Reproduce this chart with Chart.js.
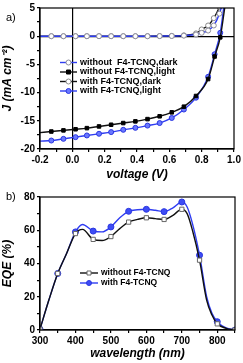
<!DOCTYPE html>
<html>
<head>
<meta charset="utf-8">
<script src="https://cdn.jsdelivr.net/npm/chart.js@4.4.0/dist/chart.umd.min.js"></script>
<style>
html, body { margin: 0; padding: 0; background: #fff; }
body { width: 243px; height: 363px; position: relative; overflow: hidden; font-family: "Liberation Sans", Arial, sans-serif; }
#jvBox { position: absolute; left: 0; top: 0; width: 243px; height: 184px; }
#eqeBox { position: absolute; left: 0; top: 184px; width: 243px; height: 179px; }
.panel { position: absolute; font-size: 11px; color: #000; }
</style>
</head>
<body>
<div id="jvBox"><canvas id="jvCanvas"></canvas></div>
<div id="eqeBox"><canvas id="eqeCanvas"></canvas></div>
<div class="panel" style="left:6px;top:11px">a)</div>
<div class="panel" style="left:6px;top:190px">b)</div>
<script>
// ---- J-V data (panel a) ----
const voltLight = [-0.2, -0.13, -0.055, 0.02, 0.09, 0.165, 0.24, 0.315, 0.39, 0.465, 0.54, 0.615, 0.69, 0.765, 0.84, 0.88, 0.915, 0.945];
const jWithoutLight = [-17.1, -16.9, -16.7, -16.5, -16.3, -16.0, -15.7, -15.4, -15.1, -14.7, -14.2, -13.5, -12.5, -10.6, -7.6, -3.6, -0.2, 5.5];
const jWithLight = [-18.6, -18.5, -18.2, -17.9, -17.6, -17.3, -17.0, -16.6, -16.25, -15.85, -15.4, -14.5, -13.0, -10.9, -7.2, -3.2, 0.6, 7];

const voltDark = [-0.2, -0.13, -0.055, 0.02, 0.09, 0.165, 0.24, 0.315, 0.39, 0.465, 0.54, 0.615, 0.69, 0.765, 0.80, 0.84, 0.875, 0.91, 0.94];
const jWithoutDark = [0, 0, 0, 0, 0, 0, 0, 0, 0, 0, 0.02, 0.04, 0.1, 0.3, 0.6, 1.0, 1.9, 4.0, 7];
const jWithDark = [0, 0, 0, 0, 0, 0, 0, 0, 0, 0.01, 0.03, 0.06, 0.15, 0.5, 1.2, 1.9, 3.2, 5.2, 8];

const voltTicks = [-0.2, 0.0, 0.2, 0.4, 0.6, 0.8, 1.0];
const jTicks = [-20, -15, -10, -5, 0, 5];

// ---- EQE data (panel b) ----
const wavelength = [300, 325, 350, 375, 400, 420, 450, 475, 500, 525, 550, 575, 600, 625, 650, 675, 700, 715, 730, 750, 770, 785, 800, 825, 850];
const eqeWith = [0.5, 18, 34, 46, 59, 63.5, 59.5, 59, 62, 67.5, 71.4, 72.3, 72.6, 72, 71.2, 73.5, 77, 74, 64, 45, 20, 10, 5, 1.2, 0];
const eqeWithout = [0.5, 18, 34, 46, 58, 60.5, 54.5, 53.8, 56.2, 61, 64.9, 66.5, 67.5, 67, 66.5, 69, 72.6, 70, 60, 42, 18, 9, 3.7, 1, 0];

const wlTicks = [300, 400, 500, 600, 700, 800];
const eqeTicks = [0, 20, 40, 60, 80];

const BLUE = '#2f3df2';
const BLACK = '#111';

Chart.defaults.font.family = '"Liberation Sans", Arial, sans-serif';
Chart.defaults.color = '#000';

const pairs = (xs, ys) => xs.map((x, i) => ({ x: x, y: ys[i] }));

// majors + midpoints as minor ticks
function withMinor(majors, extra) {
    const out = [];
    majors.forEach((v, i) => {
        out.push(v);
        if (i < majors.length - 1) out.push((v + majors[i + 1]) / 2);
    });
    (extra || []).forEach(v => out.push(v));
    return out;
}
const isMajor = (majors, v) => majors.some(m => Math.abs(m - v) < 1e-6);

function axis(opts) {
    const ticksAll = withMinor(opts.majors, opts.extra);
    return {
        type: 'linear',
        min: opts.min,
        max: opts.max,
        afterBuildTicks: s => { s.ticks = ticksAll.map(v => ({ value: v })); },
        afterFit: s => {
            if (opts.width) s.width = opts.width;
            if (opts.height) s.height = opts.height;
        },
        ticks: {
            autoSkip: false,
            maxRotation: 0,
            padding: 2,
            color: '#000',
            font: { size: 10, weight: 'bold' },
            callback: v => isMajor(opts.majors, v) ? opts.fmt(v) : ''
        },
        grid: {
            color: c => (opts.zero && c.tick && Math.abs(c.tick.value) < 1e-9) ? '#000' : 'rgba(0,0,0,0)',
            lineWidth: 1.2,
            tickColor: '#000',
            tickLength: 3
        },
        border: { color: '#000', width: 1.2 },
        title: {
            display: true,
            text: opts.title,
            color: '#000',
            font: { size: 12, weight: 'bold', style: 'italic' },
            padding: { top: 0, bottom: 2 }
        }
    };
}

const framePlugin = {
    id: 'frame',
    afterDraw(chart) {
        const a = chart.chartArea;
        const ctx = chart.ctx;
        ctx.save();
        ctx.strokeStyle = '#000';
        ctx.lineWidth = 1.2;
        ctx.strokeRect(a.left, a.top, a.right - a.left, a.bottom - a.top);
        ctx.restore();
    }
};

function drawMarker(ctx, ds, x, y) {
    const r = ds.legendRadius || 2.5;
    ctx.fillStyle = ds.pointBackgroundColor;
    ctx.strokeStyle = ds.pointBorderColor;
    ctx.lineWidth = 1;
    ctx.beginPath();
    if (ds.pointStyle === 'rect') {
        const h = r * 0.8;
        ctx.rect(x - h, y - h, h * 2, h * 2);
    } else {
        ctx.arc(x, y, r, 0, Math.PI * 2);
    }
    ctx.fill();
    ctx.stroke();
}

// legend drawn as short line + marker + label
const lineLegend = {
    id: 'lineLegend',
    afterDraw(chart, args, opts) {
        const ctx = chart.ctx;
        ctx.save();
        chart.data.datasets.forEach((ds, i) => {
            const y = opts.rows[i];
            ctx.strokeStyle = ds.borderColor;
            ctx.lineWidth = ds.borderWidth;
            ctx.beginPath();
            ctx.moveTo(opts.x0, y);
            ctx.lineTo(opts.x1, y);
            ctx.stroke();
            drawMarker(ctx, ds, (opts.x0 + opts.x1) / 2, y);
            ctx.fillStyle = '#000';
            ctx.font = opts.font;
            ctx.textBaseline = 'middle';
            ctx.fillText(ds.label, opts.x1 + 3, y);
        });
        ctx.restore();
    }
};

const hideFirst = c => c.dataIndex === 0 ? 0 : 2.5;

function series(label, data, color, style, bg, border, radius) {
    return {
        label: label,
        data: data,
        borderColor: color,
        borderWidth: 1.4,
        pointStyle: style,
        pointBackgroundColor: bg,
        pointBorderColor: border,
        pointBorderWidth: 1,
        pointRadius: radius,
        legendRadius: 2.5,
        cubicInterpolationMode: 'monotone',
        fill: false
    };
}

new Chart(document.getElementById('jvCanvas'), {
    type: 'line',
    data: {
        datasets: [
            series('without  F4-TCNQ,dark', pairs(voltDark, jWithoutDark), BLUE, 'circle', '#fff', '#8a8a9a', hideFirst),
            series('without F4-TCNQ,light', pairs(voltLight, jWithoutLight), BLACK, 'rect', '#000', '#000', hideFirst),
            series('with F4-TCNQ,dark', pairs(voltDark, jWithDark), BLACK, 'circle', '#fff', '#8a8a8a', hideFirst),
            series('with F4-TCNQ,light', pairs(voltLight, jWithLight), BLUE, 'circle', '#6a78ff', '#2a36e0', hideFirst)
        ]
    },
    options: {
        responsive: true,
        maintainAspectRatio: false,
        animation: false,
        layout: { padding: { top: 7, right: 9, left: 0, bottom: 0 } },
        scales: {
            x: axis({ min: -0.2, max: 1.0, majors: voltTicks, fmt: v => v.toFixed(1), title: 'voltage (V)', zero: true, height: 35 }),
            y: axis({ min: -20, max: 5, majors: jTicks, fmt: v => String(v), title: 'J (mA cm\u207B\u00B2)', zero: true, width: 40 })
        },
        plugins: {
            legend: { display: false },
            tooltip: { enabled: false },
            lineLegend: { x0: 60, x1: 77, rows: [62.5, 72, 81.5, 91], font: 'bold 9px "Liberation Sans", Arial, sans-serif' }
        }
    },
    plugins: [framePlugin, lineLegend]
});

const everyFifty = c => wavelength[c.dataIndex] % 50 === 0 ? 3 : 0;

new Chart(document.getElementById('eqeCanvas'), {
    type: 'line',
    data: {
        datasets: [
            series('without F4-TCNQ', pairs(wavelength, eqeWithout), BLACK, 'rect', '#fff', '#666', everyFifty),
            series('with F4-TCNQ', pairs(wavelength, eqeWith), BLUE, 'circle', '#3d4cf5', '#2a36e0', everyFifty)
        ]
    },
    options: {
        responsive: true,
        maintainAspectRatio: false,
        animation: false,
        layout: { padding: { top: 13, right: 8, left: 0, bottom: 0 } },
        scales: {
            x: axis({ min: 300, max: 850, majors: wlTicks, extra: [850], fmt: v => String(v), title: 'wavelength (nm)', height: 33 }),
            y: axis({ min: 0, max: 80, majors: eqeTicks, fmt: v => String(v), title: 'EQE (%)', width: 40 })
        },
        plugins: {
            legend: { display: false },
            tooltip: { enabled: false },
            lineLegend: { x0: 80, x1: 98, rows: [89, 99], font: 'bold 8.5px "Liberation Sans", Arial, sans-serif' }
        }
    },
    plugins: [framePlugin, lineLegend]
});
</script>
</body>
</html>
